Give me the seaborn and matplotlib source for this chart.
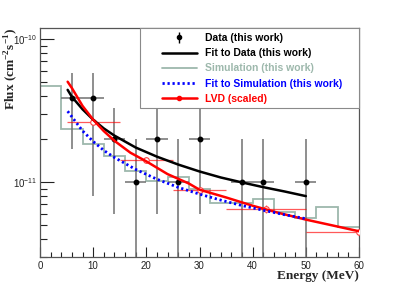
import numpy as np
import matplotlib
matplotlib.use("Agg")
import matplotlib.pyplot as plt
import seaborn as sns
from matplotlib.lines import Line2D
from matplotlib.patches import Rectangle
from matplotlib.ticker import MultipleLocator, LogLocator, NullFormatter

# ---------------- data ----------------
# measured points (this work)
data_x = [6, 10, 14, 18, 22, 26, 30, 38, 42, 50]
data_y = [3.9e-11, 3.9e-11, 2.0e-11, 1.0e-11, 2.0e-11, 1.0e-11, 2.0e-11, 1.0e-11, 1.0e-11, 1.0e-11]
data_xerr = [2, 2, 2, 2, 2, 2, 2, 2, 2, 2]
data_yerr_lo = [2.2e-11, 3.1e-11, 1.4e-11, 0.99e-11, 1.4e-11, 0.99e-11, 1.4e-11, 0.99e-11, 0.99e-11, 0.99e-11]
data_yerr_hi = [1.95e-11, 1.95e-11, 1.3e-11, 1.0e-11, 1.4e-11, 1.0e-11, 1.4e-11, 1.0e-11, 1.0e-11, 1.0e-11]

# fit to data
fit_x = [5.2, 6, 8, 10, 12, 14, 18, 22, 26, 30, 34, 38, 42, 46, 50]
fit_y = [4.43e-11, 3.96e-11, 3.24e-11, 2.74e-11, 2.38e-11, 2.12e-11, 1.75e-11, 1.51e-11,
         1.33e-11, 1.19e-11, 1.08e-11, 9.97e-12, 9.24e-12, 8.62e-12, 8.0e-12]

# simulation histogram (4 MeV bins)
sim_edges = [0, 4, 8, 12, 16, 20, 24, 28, 32, 36, 40, 44, 48, 52, 56, 60]
sim_flux = [4.69e-11, 2.36e-11, 1.85e-11, 1.52e-11, 1.20e-11, 1.02e-11, 1.08e-11, 9.0e-12,
            7.15e-12, 7.15e-12, 7.62e-12, 6.16e-12, 5.6e-12, 6.67e-12, 4.89e-12]

# fit to simulation
simfit_x = [5.2, 8, 10, 12, 14, 18, 22, 26, 30, 34, 38, 42, 46, 50]
simfit_y = [3.14e-11, 2.29e-11, 1.93e-11, 1.67e-11, 1.49e-11, 1.23e-11, 1.05e-11, 9.21e-12,
            8.26e-12, 7.5e-12, 6.87e-12, 6.37e-12, 5.93e-12, 5.56e-12]

# LVD (scaled) points and curve
lvd_x = [10, 20, 30, 42.5, 60]
lvd_y = [2.66e-11, 1.44e-11, 8.78e-12, 6.5e-12, 4.49e-12]
lvd_xerr_lo = [5, 5, 5, 7.5, 10]
lvd_xerr_hi = [5, 5, 5, 7.5, 10]
lvd_yerr = [1.2e-12, 7e-13, 5.5e-13, 4.3e-13, 3e-13]

lvdfit_x = [5.2, 6, 8, 10, 12, 14, 17, 20, 24, 28, 30, 35, 40, 45, 50, 55, 60]
lvdfit_y = [5.05e-11, 4.56e-11, 3.42e-11, 2.74e-11, 2.28e-11, 1.95e-11, 1.61e-11, 1.40e-11,
            1.14e-11, 9.8e-12, 8.87e-12, 7.83e-12, 6.85e-12, 6.09e-12, 5.48e-12, 4.99e-12,
            4.54e-12]

legend_labels = ["Data (this work)", "Fit to Data (this work)", "Simulation (this work)",
                 "Fit to Simulation (this work)", "LVD (scaled)"]

SIM_C = "#9db8ac"
BAR_C = "#707070"

# ---------------- figure ----------------
sns.set_theme(style="ticks")
plt.rcParams['font.family'] = ['Liberation Sans', 'DejaVu Sans']
plt.rcParams['mathtext.fontset'] = 'custom'
plt.rcParams['mathtext.rm'] = 'Liberation Sans'
plt.rcParams['mathtext.bf'] = 'Liberation Serif:bold'

fig = plt.figure(figsize=(3.99, 2.86), dpi=100)
ax = fig.add_axes([40 / 399, 1 - 257 / 286, 319 / 399, 229 / 286])

ax.set_yscale('log')

# simulation histogram
ax.stairs(sim_flux, sim_edges, baseline=None, color=SIM_C, lw=1.3, zorder=2)

# data
ax.errorbar(data_x, data_y, xerr=data_xerr, yerr=[data_yerr_lo, data_yerr_hi], fmt='o',
            color='black', ms=3.2, ecolor=BAR_C, elinewidth=1.1, capsize=0, zorder=3)

# LVD points
ax.errorbar(lvd_x, lvd_y, xerr=[lvd_xerr_lo, lvd_xerr_hi], yerr=lvd_yerr, fmt='o',
            mfc='white', mec='#ff4040', ms=4, mew=0.8, ecolor=(1, 0, 0, 0.65),
            elinewidth=0.9, capsize=0, zorder=3)

# curves
sns.lineplot(x=fit_x, y=fit_y, color='black', lw=1.8, ax=ax, zorder=4)
sns.lineplot(x=lvdfit_x, y=lvdfit_y, color='#ff0000', lw=1.8, ax=ax, zorder=4)
sns.lineplot(x=simfit_x, y=simfit_y, color='#0000ff', lw=2.0, ax=ax, zorder=4,
             linestyle=(0, (0.8, 1.0)))

# axes
ax.set_xlim(0, 60)
ax.set_ylim(3.0e-12, 1.2e-10)
ax.xaxis.set_major_locator(MultipleLocator(10))
ax.xaxis.set_minor_locator(MultipleLocator(2))
ax.yaxis.set_major_locator(LogLocator(base=10))
ax.yaxis.set_minor_locator(LogLocator(base=10, subs=np.arange(2, 10)))
ax.yaxis.set_minor_formatter(NullFormatter())
ax.tick_params(axis='both', which='both', direction='in', top=False, right=False,
               labelsize=7, colors='#222222', width=0.8)
ax.tick_params(axis='x', which='major', length=7, pad=3)
ax.tick_params(axis='x', which='minor', length=3.5)
ax.tick_params(axis='y', which='major', length=10, pad=2)
ax.tick_params(axis='y', which='minor', length=5)
for s in ax.spines.values():
    s.set_color('#555555')
    s.set_linewidth(0.9)
ax.set_xlabel('')
ax.set_ylabel('')

fig.text(359 / 399, 1 - 276 / 286, 'Energy (MeV)', ha='right', va='center',
         family='Liberation Serif', fontweight='bold', fontsize=9.5)
fig.text(11 / 399, 1 - 28 / 286, r'Flux (cm$^{\mathbf{-2}}$s$^{\mathbf{-1}}$)', rotation=90,
         ha='center', va='top', family='Liberation Serif', fontweight='bold', fontsize=9.5)

# legend box + entries
ax.add_patch(Rectangle((100 / 319, 149 / 229), 219 / 319, 80 / 229, transform=ax.transAxes,
                       facecolor='white', edgecolor='#8a8a8a', lw=0.8, zorder=5, clip_on=False))

h_data = ax.errorbar([np.nan], [np.nan], yerr=[1], fmt='o', color='black', ms=3,
                     ecolor='black', elinewidth=1, capsize=0)
handles = [
    h_data,
    Line2D([], [], color='black', lw=1.8),
    Line2D([], [], color=SIM_C, lw=1.3),
    Line2D([], [], color='#0000ff', lw=2.0, linestyle=(0, (0.8, 1.0))),
    Line2D([], [], color='#ff0000', lw=1.8, marker='o', ms=3),
]
leg = ax.legend(handles, legend_labels, loc='upper left',
                bbox_to_anchor=((161.7 - 40) / 319, (257 - 33.0) / 229),
                borderaxespad=0, borderpad=0, frameon=False, handlelength=3.4,
                handletextpad=0.8, labelspacing=0.5, numpoints=1,
                prop={'family': 'Liberation Sans', 'weight': 'bold', 'size': 7.5},
                labelcolor=['black', 'black', SIM_C, '#0000ff', '#ff0000'])
leg.set_zorder(6)

fig.savefig('out.png', dpi=100)
